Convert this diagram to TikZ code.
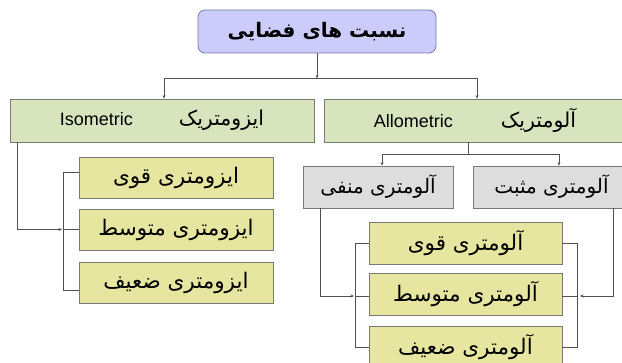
\documentclass[tikz,border=0pt]{standalone}
\usepackage{fontspec}
\setmainfont{Liberation Sans}
\newfontfamily\fa[Script=Arabic]{DejaVu Sans}
\TeXXeTstate=1
\usetikzlibrary{arrows.meta,calc}
\definecolor{titlefill}{RGB}{204,204,250}
\definecolor{titledraw}{RGB}{120,120,170}
\definecolor{greenfill}{RGB}{215,228,190}
\definecolor{grayfill}{RGB}{221,221,221}
\definecolor{yellowfill}{RGB}{230,230,160}
\definecolor{boxdraw}{RGB}{120,120,120}
\definecolor{linecol}{RGB}{80,80,80}
\tikzset{
  basebox/.style={draw=boxdraw, line width=0.8pt, inner sep=0pt, rectangle},
  titlebox/.style={draw=titledraw, fill=titlefill, line width=0.8pt, rounded corners=7pt, inner sep=0pt,
    minimum width=238pt, minimum height=43pt, font=\fa\bfseries\fontsize{20}{22}\selectfont},
  mainbox/.style={basebox, fill=greenfill, minimum height=43pt},
  signbox/.style={basebox, fill=grayfill, minimum height=42pt, font=\fa\fontsize{20}{22}\selectfont},
  subbox/.style={basebox, fill=yellowfill, minimum height=41pt, minimum width=194pt, font=\fa\fontsize{21.5}{24}\selectfont},
  conn/.style={draw=linecol, line width=0.6pt},
  arr/.style={conn, -{Stealth[length=3.5pt,width=3pt]}},
}
\begin{document}
\begin{tikzpicture}[x=1pt,y=-1pt]
\clip (0,0) rectangle (622,363);
\fill[white] (0,0) rectangle (622,363);

\node[titlebox] (title) at (317,31.5) {\beginR نسبت های فضایی\endR};

\node[mainbox, minimum width=304pt] (iso) at (162,120.5)
  {\fontsize{18}{20}\selectfont Isometric\hspace{46pt}{\fa\fontsize{20.5}{22}\selectfont\beginR ایزومتریک\endR}};
\node[mainbox, minimum width=302pt] (allo) at (475,120.5)
  {\fontsize{18}{20}\selectfont Allometric\hspace{48pt}{\fa\fontsize{20.5}{22}\selectfont\beginR آلومتریک\endR}};

\node[signbox, minimum width=150pt] (neg) at (378,187) {\beginR آلومتری منفی\endR};
\node[signbox, minimum width=157pt] (pos) at (551.5,187) {\beginR آلومتری مثبت\endR};

\node[subbox] (i1) at (176,177.5) {\beginR ایزومتری قوی\endR};
\node[subbox] (i2) at (176,229.5) {\beginR ایزومتری متوسط\endR};
\node[subbox] (i3) at (176,282.5) {\beginR ایزومتری ضعیف\endR};

\node[subbox, minimum width=193pt, minimum height=42pt] (a1) at (465.5,243) {\beginR آلومتری قوی\endR};
\node[subbox, minimum width=193pt, minimum height=42pt] (a2) at (465.5,294.5) {\beginR آلومتری متوسط\endR};
\node[subbox, minimum width=193pt, minimum height=42pt] (a3) at (465.5,347) {\beginR آلومتری ضعیف\endR};

% title to main boxes
\coordinate (j1) at ($(title.south)+(0,25)$);
\draw[arr] (title.south) -- (j1);
\draw[arr] (j1) -| ([xshift=2pt]iso.north);
\draw[arr] (j1) -| ([xshift=2pt]allo.north);

% allometric to sign boxes
\coordinate (j2) at ([xshift=-7pt]allo.south);
\coordinate (j3) at ($(j2)+(0,12)$);
\draw[conn] (j2) -- (j3);
\draw[arr] (j3) -| ([xshift=4pt]neg.north);
\draw[arr] (j3) -| ([xshift=7.5pt]pos.north);

% isometric bracket
\coordinate (bl) at (63,0);
\draw[conn] ([yshift=5.5pt]i1.west) -- ([yshift=5.5pt]i1.west -| bl) -- ([yshift=-7.5pt]i3.west -| bl) -- ([yshift=-7.5pt]i3.west);
\draw[conn] (i2.west) -- (i2.west -| bl);
\draw[arr] ([xshift=8pt]iso.south west) |- ([xshift=-1pt]i2.west -| bl);

% allometric left bracket
\coordinate (al) at (355,0);
\draw[conn] (a1.west) -- (a1.west -| al) -- (a3.west -| al) -- (a3.west);
\draw[conn] ([yshift=-1.5pt]a2.west) -- ([yshift=-1.5pt]a2.west -| al);
\draw[arr] ([xshift=18pt]neg.south west) |- ([yshift=-1.5pt,xshift=-1pt]a2.west -| al);

% allometric right bracket
\coordinate (ar) at (577,0);
\draw[conn] (a1.east) -- (a1.east -| ar) -- (a3.east -| ar) -- (a3.east);
\draw[conn] ([yshift=-1.5pt]a2.east) -- ([yshift=-1.5pt]a2.east -| ar);
\draw[arr] (pos.south -| 613,0) |- ([yshift=-1.5pt,xshift=3pt]a2.east -| ar);
\end{tikzpicture}
\end{document}
